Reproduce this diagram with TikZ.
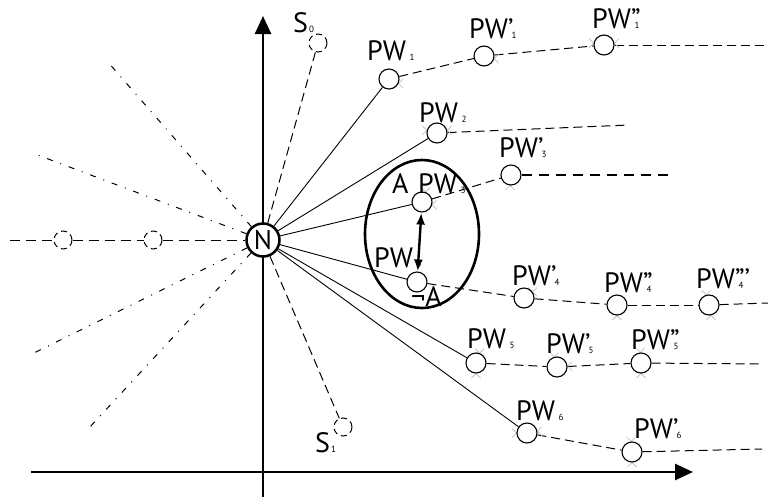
\documentclass[tikz,border=0pt]{standalone}
\usepackage{fontspec}
\setmainfont{PT Sans}
\usetikzlibrary{arrows.meta,backgrounds,shapes.geometric}
\newcommand\subsz{\fontsize{9}{9}\selectfont}
\newcommand\pwl[2]{PW\makebox[0pt][l]{#1}\kern3.5pt{\subsz #2}}
\newcommand\gxm[2]{\draw[gx] (#1.#2) +(-4.5,-4.5) -- +(4.5,4.5) +(-4.5,4.5) -- +(4.5,-4.5);}
\tikzset{
 pwc/.style={circle, draw, line width=1.1pt, minimum size=20pt, inner sep=0pt, fill=white},
 dcirc/.style={circle, draw, dash pattern=on 6pt off 4pt, line width=1pt, minimum size=18pt, inner sep=0pt},
 lab/.style={anchor=base west, inner sep=0pt, font=\fontsize{28}{28}\selectfont},
 solidln/.style={line width=0.9pt},
 dashln/.style={line width=1pt, dash pattern=on 9pt off 5pt},
 thickdash/.style={line width=1.8pt, dash pattern=on 10pt off 7pt},
 dashdot/.style={line width=1pt, dash pattern=on 6pt off 8pt on 1pt off 8pt},
 axisln/.style={line width=2.6pt, -{Triangle[length=18pt,width=16pt]}},
 gx/.style={draw=gray!45, line width=0.8pt}
}
\begin{document}
\begin{tikzpicture}[x=1pt,y=-1pt]
\useasboundingbox (0,0) rectangle (768,498);
% axes
\coordinate (ya) at (263,497);
\coordinate (yb) at (263,16);
\coordinate (xa) at (31,472);
\coordinate (xb) at (693,472);
\draw[axisln] (ya) -- (yb);
\draw[axisln] (xa) -- (xb);
% central node
\node[circle, draw, line width=2.5pt, minimum size=33pt, inner sep=0pt, fill=white, font=\fontsize{27}{27}\selectfont] (N) at (263,240) {N};
% side nodes
\node[dcirc] (s0) at (318,43) {};
\node[dcirc] (s1) at (343,427) {};
\node[dcirc] (L1) at (63,240) {};
\node[dcirc] (L2) at (153,240) {};
% PW nodes
\node[pwc] (p1) at (389,79) {};
\node[pwc] (p1a) at (484,56) {};
\node[pwc] (p1b) at (604,45) {};
\node[pwc] (p2) at (437,133) {};
\node[pwc] (p3) at (422,202) {};
\node[pwc] (p3a) at (511,175) {};
\node[pwc] (p4) at (417,282) {};
\node[pwc] (p4a) at (524,298) {};
\node[pwc] (p4b) at (617,305) {};
\node[pwc] (p4c) at (709,305) {};
\node[pwc] (p5) at (476,363) {};
\node[pwc] (p5a) at (557,367) {};
\node[pwc] (p5b) at (641,363) {};
\node[pwc] (p6) at (527,433) {};
\node[pwc] (p6a) at (632,452) {};
% free ends
\coordinate (w0) at (10,240);
\coordinate (e1) at (764,45);
\coordinate (e2) at (629,125);
\coordinate (e3) at (671,175);
\coordinate (e4) at (768,303);
\coordinate (e5) at (761,364);
\coordinate (e6) at (762,449);
\coordinate (d1) at (107,61);
\coordinate (d2) at (35,154);
\coordinate (d3) at (32,354);
\coordinate (d4) at (89,428);
% ellipse
\node[draw, ellipse, line width=2.6pt, minimum width=114pt, minimum height=148pt, inner sep=0pt] (ell) at (422,234) {};
\begin{scope}[on background layer]
\draw[dashln] (N) -- (s0);
\draw[dashln] (N) -- (s1);
\draw[dashln, dash pattern=on 10pt off 6pt] (w0) -- (L1);
\draw[dashln, dash pattern=on 10pt off 6pt] (L1) -- (L2);
\draw[dashln, dash pattern=on 10pt off 6pt] (L2) -- (N);
\draw[dashdot] (N) -- (d1);
\draw[dashdot] (N) -- (d2);
\draw[dashdot] (N) -- (d3);
\draw[dashdot] (N) -- (d4);
\foreach \p in {p1,p2,p3,p4,p5,p6} {\draw[solidln] (N) -- (\p);}
\draw[dashln] (p1) -- (p1a);
\draw[dashln] (p1a) -- (p1b);
\draw[dashln] (p1b) -- (e1);
\draw[dashln] (p2) -- (e2);
\draw[dashln] (p3) -- (p3a);
\draw[thickdash] (p3a) -- (e3);
\draw[dashln] (p4) -- (p4a);
\draw[dashln] (p4a) -- (p4b);
\draw[dashln] (p4b) -- (p4c);
\draw[dashln] (p4c) -- (e4);
\draw[dashln] (p5) -- (p5a);
\draw[dashln] (p5a) -- (p5b);
\draw[dashln] (p5b) -- (e5);
\draw[dashln] (p6) -- (p6a);
\draw[dashln] (p6a) -- (e6);
% grey marks
\gxm{p1}{-25}
\gxm{p1a}{-15}
\gxm{p1b}{170}\gxm{p1b}{10}
\gxm{p2}{165}\gxm{p2}{15}
\gxm{p3}{70}\gxm{p3}{-15}
\gxm{p3a}{-95}
\gxm{p4a}{35}
\gxm{p4b}{-90}
\gxm{p4c}{105}\gxm{p4c}{-80}
\gxm{p5}{70}\gxm{p5}{-90}
\gxm{p5a}{105}\gxm{p5a}{5}
\gxm{p5b}{95}\gxm{p5b}{-90}
\gxm{p6}{180}\gxm{p6}{10}
\gxm{p6a}{95}\gxm{p6a}{-90}
\end{scope}
% double arrow
\draw[line width=2.4pt, {Latex[length=12pt,width=9pt]}-{Latex[length=12pt,width=9pt]}] (p3) -- (p4);
% labels
\node[lab] (ls0) at (293,32) {S\kern1pt{\subsz 0}};
\node[lab] (ls1) at (315,452) {S\kern1pt{\subsz 1}};
\node[lab] (l1) at (367,60) {\pwl{}{1}};
\node[lab] (l1a) at (469,38) {\pwl{'}{1}};
\node[lab] (l1b) at (592,28) {\pwl{''}{1}};
\node[lab] (l2) at (419,122) {\pwl{}{2}};
\node[lab] (l3a) at (499,157) {\pwl{'}{3}};
\node[lab] (l3) at (418,193) {\pwl{}{3}};
\node[lab] (lA) at (392,193) {A};
\node[lab] (l4) at (374,267) {\pwl{}{4}};
\node[lab] (lnA) at (411,306) {¬A};
\node[lab] (l4a) at (512,285) {\pwl{'}{4}};
\node[lab] (l4b) at (604,292) {\pwl{''}{4}};
\node[lab] (l4c) at (696,288) {\pwl{'''}{4}};
\node[lab] (l5) at (467,348) {\pwl{}{5}};
\node[lab] (l5a) at (546,353) {\pwl{'}{5}};
\node[lab] (l5b) at (631,349) {\pwl{''}{5}};
\node[lab] (l6) at (516,420) {\pwl{}{6}};
\node[lab] (l6a) at (634,438) {\pwl{'}{6}};
\end{tikzpicture}
\end{document}
